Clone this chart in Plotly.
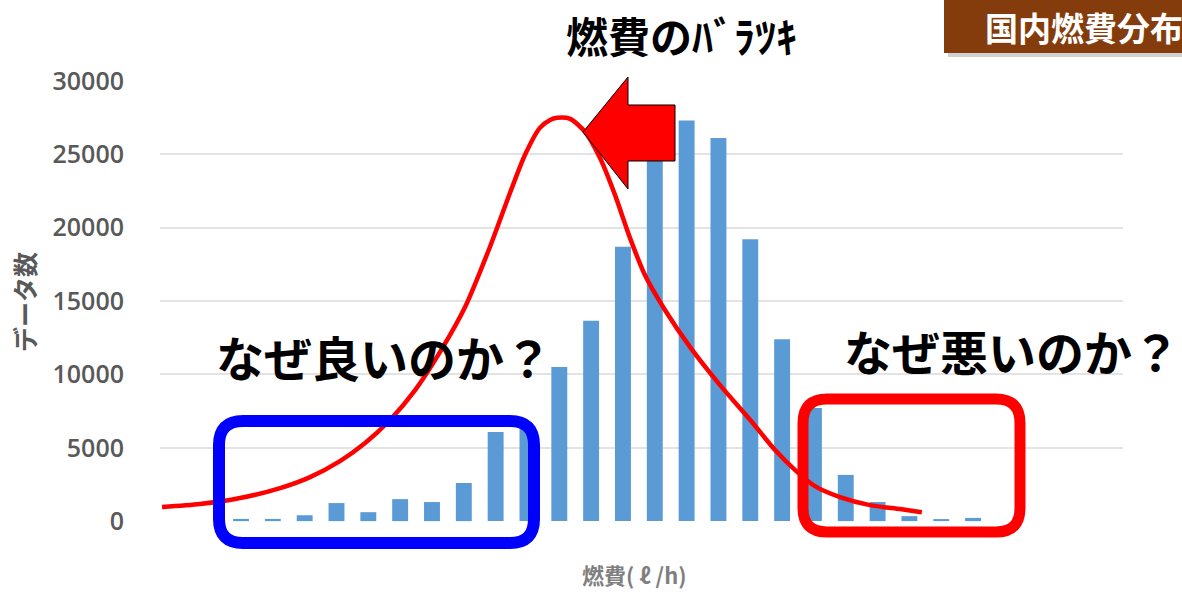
import plotly.graph_objects as go

# ---- data ----
bin_index = list(range(1, 25))
counts = [150, 150, 400, 1230, 610, 1500, 1300, 2600, 6070, 6350, 10500, 13650,
          18700, 25200, 27300, 26100, 19200, 12400, 7700, 3150, 1300, 340, 140, 220]

# hand-drawn red "spread" curve, in bin units / count units
curve_x = [-1.48, -0.29, 0.97, 2.23, 3.17, 4.11, 4.90, 5.68, 6.47, 7.25, 8.04, 8.82,
           9.45, 9.92, 10.39, 10.71, 10.93, 11.34, 11.81, 12.28, 12.75, 13.22, 13.69,
           14.32, 15.11, 16.05, 17.00, 17.78, 18.41, 19.03, 19.82, 20.76, 21.70, 22.39]
curve_y = [955, 1160, 1570, 2250, 3000, 4090, 5320, 6890, 8930, 11520, 14590, 18680,
           22360, 24950, 26800, 27340, 27480, 27410, 26520, 24750, 22230, 19300, 16770,
           14390, 11860, 9270, 6890, 4840, 3480, 2390, 1640, 1090, 820, 610]

y_ticks = [0, 5000, 10000, 15000, 20000, 25000, 30000]

# ---- layout helpers (pixel -> paper) ----
L, R, T, B = 160, 1123, 80, 522
def px(x):
    return (x - L) / (R - L)
def py(y):
    return (B - y) / (B - T)

def rrect(x0, y0, x1, y1, r):
    pts = [("M", [(x0 + r, y0)]), ("L", [(x1 - r, y0)]), ("Q", [(x1, y0), (x1, y0 + r)]),
           ("L", [(x1, y1 - r)]), ("Q", [(x1, y1), (x1 - r, y1)]), ("L", [(x0 + r, y1)]),
           ("Q", [(x0, y1), (x0, y1 - r)]), ("L", [(x0, y0 + r)]), ("Q", [(x0, y0), (x0 + r, y0)])]
    s = ""
    for cmd, ps in pts:
        s += cmd + " " + " ".join(f"{px(a):.5f},{py(b):.5f}" for a, b in ps) + " "
    return s + "Z"

def poly(points):
    return "M " + " L ".join(f"{px(a):.5f},{py(b):.5f}" for a, b in points) + " Z"

fig = go.Figure()
fig.add_trace(go.Bar(x=bin_index, y=counts, width=0.5, marker_color="#5b9bd5",
                     marker_line_width=0, showlegend=False))
fig.add_trace(go.Scatter(x=curve_x, y=curve_y, mode="lines",
                         line=dict(color="#ff0000", width=4.5, shape="spline", smoothing=0.7),
                         showlegend=False))

JP = "Noto Sans CJK JP"
shapes = [
    # arrow
    dict(type="path", xref="paper", yref="paper",
         path=poly([(583, 132), (628, 77), (628, 105), (675, 105), (675, 161), (628, 161), (628, 189)]),
         fillcolor="#ff0000", line=dict(color="#000000", width=1)),
    # blue box
    dict(type="path", xref="paper", yref="paper", path=rrect(219, 421, 534, 543, 24),
         line=dict(color="#0000ff", width=12)),
    # red box
    dict(type="path", xref="paper", yref="paper", path=rrect(803, 399, 1020, 532, 24),
         line=dict(color="#ff0000", width=11)),
    # label box shadow and box
    dict(type="rect", xref="paper", yref="paper", x0=px(948), x1=px(1195), y0=py(57), y1=py(-5),
         fillcolor="rgba(0,0,0,0.18)", line_width=0),
    dict(type="rect", xref="paper", yref="paper", x0=px(944), x1=px(1195), y0=py(53), y1=py(-5),
         fillcolor="#843c0c", line_width=0),
]

annotations = [
    dict(text="燃費のﾊﾞﾗﾂｷ", x=px(681), y=py(35), xref="paper", yref="paper",
         showarrow=False, xanchor="center", yanchor="middle",
         font=dict(family=JP, size=42, color="#000000", weight="bold")),
    dict(text="国内燃費分布", x=px(983), y=py(27), xref="paper", yref="paper",
         showarrow=False, xanchor="left", yanchor="middle",
         font=dict(family=JP, size=33, color="#ffffff", weight="bold")),
    dict(text="なぜ良いのか？", x=px(384), y=py(356), xref="paper", yref="paper",
         showarrow=False, xanchor="center", yanchor="middle",
         font=dict(family=JP, size=48, color="#000000", weight="bold")),
    dict(text="なぜ悪いのか？", x=px(1012), y=py(350), xref="paper", yref="paper",
         showarrow=False, xanchor="center", yanchor="middle",
         font=dict(family=JP, size=48, color="#000000", weight="bold")),
    dict(text="データ数", x=px(24), y=py(302), xref="paper", yref="paper", textangle=-90,
         showarrow=False, xanchor="center", yanchor="middle",
         font=dict(family=JP, size=25, color="#595959", weight="bold")),
    dict(text="燃費( ℓ /h)", x=px(634), y=py(574), xref="paper", yref="paper",
         showarrow=False, xanchor="center", yanchor="middle",
         font=dict(family=JP, size=22, color="#7f7f7f", weight="bold")),
]

fig.update_layout(
    width=1182, height=592,
    margin=dict(l=L, r=1182 - R, t=T, b=592 - B),
    plot_bgcolor="#ffffff", paper_bgcolor="#ffffff",
    bargap=0.5,
    shapes=shapes, annotations=annotations,
    xaxis=dict(range=[-1.545, 28.71], showgrid=False, zeroline=False,
               showticklabels=False, showline=False, ticks=""),
    yaxis=dict(range=[-60, 30060], tickvals=y_ticks, ticktext=[str(v) for v in y_ticks],
               showgrid=True, gridcolor="#e3e3e3", gridwidth=1.5, zeroline=False,
               showline=False, ticks="", ticklabelstandoff=35,
               tickfont=dict(family="Open Sans", size=25, color="#595959", weight=600)),
)

fig.write_html("out.html")
